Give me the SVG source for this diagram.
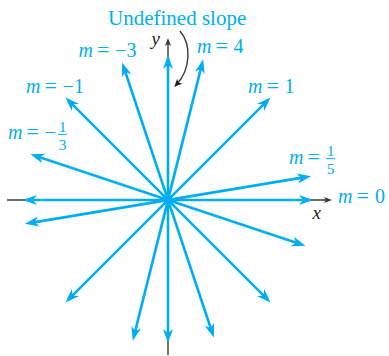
<svg xmlns="http://www.w3.org/2000/svg" width="389" height="356" viewBox="0 0 389 356">
  <style>
    .ray { stroke: #00AEEF; stroke-width: 2.6; fill: none; marker-start: url(#blueHead); marker-end: url(#blueHead); }
    .axis { stroke: #3a3a3a; stroke-width: 1.4; fill: none; }
    .lbl { font-family: "Liberation Serif", "Times New Roman", serif; font-size: 20px; fill: #00AEEF; }
    .eq { font-size: 22px; }
    .frac { font-family: "Liberation Serif", "Times New Roman", serif; font-size: 15.5px; fill: #00AEEF; text-anchor: middle; }
    .mi { font-style: italic; }
    .axlbl { font-family: "Liberation Serif", "Times New Roman", serif; font-size: 19px; font-style: italic; fill: #231f20; }
    .bar { stroke: #00AEEF; stroke-width: 1; }
  </style>
  <defs>
    <marker id="blueHead" viewBox="-6 -6 16 12" refX="0" refY="0" markerWidth="16" markerHeight="12" markerUnits="userSpaceOnUse" orient="auto-start-reverse" overflow="visible">
      <path d="M9,0 L-5,-5 L-1,0 L-5,5 Z" fill="#00AEEF"/>
    </marker>
    <marker id="blackHead" viewBox="-3 -4 12 8" refX="0" refY="0" markerWidth="12" markerHeight="8" markerUnits="userSpaceOnUse" orient="auto" overflow="visible">
      <path d="M6,0 L-2,-3 L0,0 L-2,3 Z" fill="#3a3a3a"/>
    </marker>
    <marker id="curveHead" viewBox="-3 -4 12 8" refX="0" refY="0" markerWidth="12" markerHeight="8" markerUnits="userSpaceOnUse" orient="auto" overflow="visible">
      <path d="M4,0 L-4,-3.5 L-2,0 L-4,3.5 Z" fill="#231f20"/>
    </marker>
  </defs>

  <g id="axes">
    <line class="axis" x1="7" y1="200" x2="326" y2="200" marker-end="url(#blackHead)"/>
    <line class="axis" x1="168" y1="355" x2="168" y2="44" marker-end="url(#blackHead)"/>
    <text class="axlbl" x="312.5" y="219">x</text>
    <text class="axlbl" x="151.5" y="45">y</text>
  </g>

  <g id="connectors">
    <line class="ray" id="ray-m0" x1="32" y1="200" x2="304" y2="200"/>
    <line class="ray" id="ray-undef" x1="168" y1="334" x2="168" y2="64"/>
    <line class="ray" id="ray-m-3" x1="211" y1="329.02" x2="125" y2="70.98"/>
    <line class="ray" id="ray-m-1" x1="264.17" y1="296.17" x2="71.83" y2="103.83"/>
    <line class="ray" id="ray-m-third" x1="297.02" y1="243" x2="38.98" y2="157"/>
    <line class="ray" id="ray-m4" x1="135.01" y1="331.94" x2="200.99" y2="68.06"/>
    <line class="ray" id="ray-m1" x1="71.83" y1="296.17" x2="264.17" y2="103.83"/>
    <line class="ray" id="ray-m-fifth" x1="33.85" y1="222.36" x2="302.15" y2="177.64"/>
    <path class="axis" d="M180,31 C192,45 190,70 177,84" marker-end="url(#curveHead)" stroke="#231f20"/>
  </g>

  <g id="label-undefined">
    <text class="lbl" x="108" y="25" style="font-size:21px">Undefined slope</text>
  </g>

  <g id="label-m-3">
    <text class="lbl" y="56.7"><tspan class="mi" x="78.5">m</tspan><tspan class="eq" x="97">=</tspan><tspan x="115">−</tspan><tspan x="126.5">3</tspan></text>
  </g>

  <g id="label-m4">
    <text class="lbl" y="53.3"><tspan class="mi" x="197">m</tspan><tspan class="eq" x="215.5">=</tspan><tspan x="233.5">4</tspan></text>
  </g>

  <g id="label-m-1">
    <text class="lbl" y="93.3"><tspan class="mi" x="26">m</tspan><tspan class="eq" x="44.5">=</tspan><tspan x="62.5">−</tspan><tspan x="74">1</tspan></text>
  </g>

  <g id="label-m1">
    <text class="lbl" y="92.7"><tspan class="mi" x="248">m</tspan><tspan class="eq" x="266.5">=</tspan><tspan x="284.5">1</tspan></text>
  </g>

  <g id="label-m-third">
    <text class="lbl" y="139"><tspan class="mi" x="8">m</tspan><tspan class="eq" x="26.5">=</tspan><tspan x="44.5">−</tspan></text>
    <text class="frac" x="62.5" y="131.5">1</text>
    <line class="bar" x1="58" y1="134.4" x2="67" y2="134.4"/>
    <text class="frac" x="62.5" y="149.5">3</text>
  </g>

  <g id="label-m-fifth">
    <text class="lbl" y="163.5"><tspan class="mi" x="289">m</tspan><tspan class="eq" x="307.5">=</tspan></text>
    <text class="frac" x="330.5" y="155.8">1</text>
    <line class="bar" x1="326" y1="158.7" x2="335" y2="158.7"/>
    <text class="frac" x="330.5" y="174">5</text>
  </g>

  <g id="label-m0">
    <text class="lbl" y="203.3"><tspan class="mi" x="338">m</tspan><tspan class="eq" x="356.5">=</tspan><tspan x="375">0</tspan></text>
  </g>
</svg>
